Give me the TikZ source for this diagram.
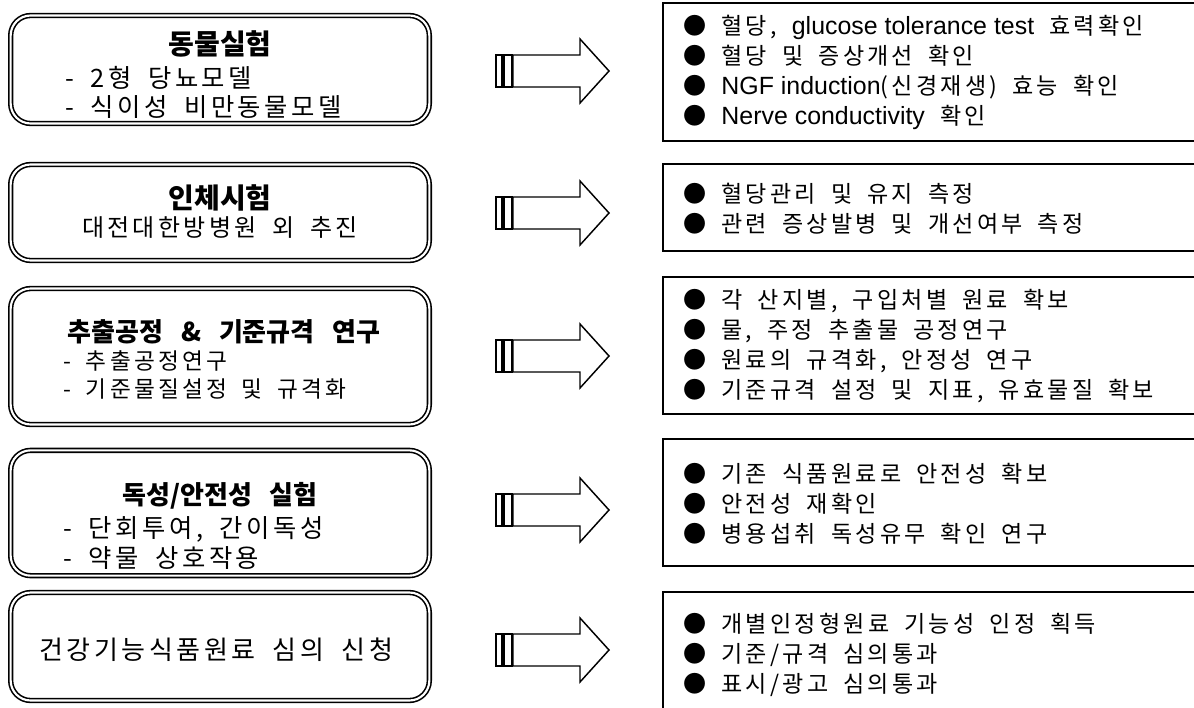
\documentclass[tikz,border=0pt]{standalone}
\usepackage{fontspec}
\setmainfont{Noto Sans CJK KR}[LetterSpace=14,WordSpace=1.8]
\newfontfamily\headfont{Noto Sans CJK KR}[WordSpace=3]
\newfontfamily\latinfont{Liberation Sans}[Scale=1.08]
\begin{document}
\begin{tikzpicture}[x=0.75pt,y=-0.75pt,
  stage/.style={draw,line width=1.2pt,double=white,double distance=1.6pt,rounded corners=15pt,minimum width=314pt},
  result/.style={draw,line width=1.5pt},
  blockarrow/.style={draw,line width=1.1pt,fill=white},
  head/.style={font=\headfont\fontsize{19.5}{22}\selectfont\bfseries,inner sep=0pt},
  bighead/.style={font=\headfont\fontsize{21}{24}\selectfont\bfseries,inner sep=0pt},
  sub/.style={font=\fontsize{17}{21.75}\selectfont,inner sep=0pt,anchor=west},
  bigsub/.style={font=\fontsize{19}{22}\selectfont,inner sep=0pt,anchor=west},
  list/.style={font=\fontsize{17.3}{22.7}\selectfont,inner sep=0pt,anchor=west,align=left}]
\useasboundingbox (0,0) rectangle (1194,707);
\node[stage,minimum height=81pt] (animal) at (220,69.5) {};
\node[stage,minimum height=72pt] (human) at (220,212.5) {};
\node[stage,minimum height=102pt] (extract) at (220,356.5) {};
\node[stage,minimum height=94pt] (toxic) at (220,513) {};
\node[stage,minimum height=81pt] (apply) at (220,646.5) {};
\node[bighead] (animal title) at (220,44) {동물실험};
\node[bigsub] (animal a) at (65,78) {- 2형 당뇨모델};
\node[bigsub] (animal b) at (65,107) {- 식이성 비만동물모델};
\node[bighead] (human title) at (220,198) {인체시험};
\node[sub,anchor=center,font=\fontsize{18}{22}\selectfont] (human a) at (220,228) {대전대한방병원 외 추진};
\node[head] (extract title) at (224,332) {추출공정 \& 기준규격 연구};
\node[sub] (extract a) at (63,361) {- 추출공정연구};
\node[sub] (extract b) at (63,389) {- 기준물질설정 및 규격화};
\node[head] (toxic title) at (220,496) {독성/안전성 실험};
\node[bigsub] (toxic a) at (63,529) {- 단회투여, 간이독성};
\node[bigsub] (toxic b) at (63,558) {- 약물 상호작용};
\node[sub,anchor=center,font=\fontsize{19.5}{22}\selectfont] (apply title) at (216,650) {건강기능식품원료 심의 신청};
\foreach \y in {71,213,356,510,650} {
  \draw[blockarrow] (496,\y-16) rectangle (502,\y+16);
  \draw[blockarrow] (504,\y-16) rectangle (512,\y+16);
  \draw[blockarrow] (513,\y-16) -- (580,\y-16) -- (580,\y-32) -- (609,\y) -- (580,\y+32) -- (580,\y+16) -- (513,\y+16) -- cycle;
}
\draw[result] (1196,3) -| (663,141) -- (1196,141);
\draw[result] (1196,164) -| (663,251) -- (1196,251);
\draw[result] (1196,277) -| (663,414) -- (1196,414);
\draw[result] (1196,439) -| (663,566) -- (1196,566);
\draw[result] (1196,592) -| (663,712);
\node[list] (animal list) at (683,72.5) {● 혈당, {\latinfont glucose tolerance test} 효력확인\\● 혈당 및 증상개선 확인\\● {\latinfont NGF induction}(신경재생) 효능 확인\\● {\latinfont Nerve conductivity} 확인};
\node[list] (human list) at (683,208.5) {● 혈당관리 및 유지 측정\\● 관련 증상발병 및 개선여부 측정};
\node[list] (extract list) at (683,346) {● 각 산지별, 구입처별 원료 확보\\● 물, 주정 추출물 공정연구\\● 원료의 규격화, 안정성 연구\\● 기준규격 설정 및 지표, 유효물질 확보};
\node[list] (toxic list) at (683,504) {● 기존 식품원료로 안전성 확보\\● 안전성 재확인\\● 병용섭취 독성유무 확인 연구};
\node[list] (apply list) at (683,655) {● 개별인정형원료 기능성 인정 획득\\● 기준/규격 심의통과\\● 표시/광고 심의통과};
\end{tikzpicture}
\end{document}
